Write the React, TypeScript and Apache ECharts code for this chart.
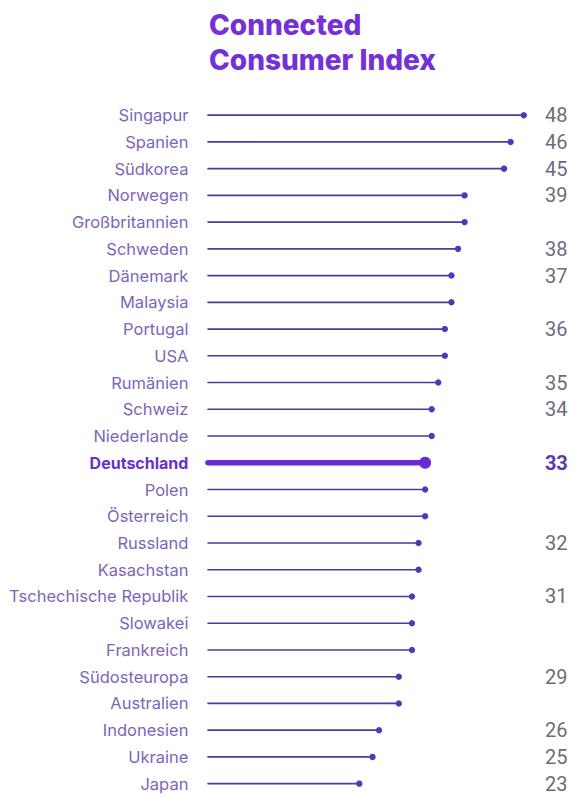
import React, { useEffect, useRef } from "react";
import * as echarts from "echarts";

const countries = [
  "Singapur", "Spanien", "Südkorea", "Norwegen", "Großbritannien", "Schweden",
  "Dänemark", "Malaysia", "Portugal", "USA", "Rumänien", "Schweiz", "Niederlande",
  "Deutschland", "Polen", "Österreich", "Russland", "Kasachstan",
  "Tschechische Republik", "Slowakei", "Frankreich", "Südosteuropa", "Australien",
  "Indonesien", "Ukraine", "Japan",
];
const values = [48, 46, 45, 39, 39, 38, 37, 37, 36, 36, 35, 34, 34, 33, 33, 33, 32, 32, 31, 31, 31, 29, 29, 26, 25, 23];
const valueLabels = ["48", "46", "45", "39", "", "38", "37", "", "36", "", "35", "34", "", "33", "", "", "32", "", "31", "", "", "29", "", "26", "25", "23"];
const highlight = "Deutschland";
const titleLines = ["Connected", "Consumer Index"];

export default function App() {
  const ref = useRef<HTMLDivElement>(null);
  useEffect(() => {
    document.body.style.margin = "0";
    const chart = echarts.init(ref.current!, null, { renderer: "svg" });
    chart.setOption({
      animation: false,
      backgroundColor: "#ffffff",
      title: {
        text: titleLines.join("\n"),
        left: 204,
        top: 2,
        textStyle: {
          fontFamily: "Inter",
          fontWeight: 800,
          fontSize: 28,
          lineHeight: 35,
          color: "#7530d6",
        },
      },
      grid: { left: 201.4, top: 101.8, width: 50 * 6.58, height: 26 * 26.9 },
      xAxis: {
        type: "value",
        min: -1,
        max: 49,
        show: false,
      },
      yAxis: [
        {
          type: "category",
          data: countries,
          inverse: true,
          axisLine: { show: false },
          axisTick: { show: false },
          splitLine: { show: false },
          axisLabel: {
            margin: 13,
            fontFamily: "Inter",
            fontSize: 16.5,
            color: "#7d66b9",
            formatter: (v: string) => (v === highlight ? `{b|${v}}` : v),
            rich: {
              b: { fontFamily: "Inter", fontSize: 16, fontWeight: 700, color: "#6a30cc" },
            },
          },
        },
        {
          type: "category",
          data: countries,
          inverse: true,
          position: "right",
          axisLine: { show: false },
          axisTick: { show: false },
          splitLine: { show: false },
          axisLabel: {
            margin: 14.5,
            align: "left",
            fontFamily: "Roboto",
            fontSize: 20,
            color: "#6f6b7e",
            formatter: (v: string) => {
              const i = countries.indexOf(v);
              const t = valueLabels[i];
              if (!t) return "";
              return v === highlight ? `{b|${t}}` : t;
            },
            rich: {
              b: { fontFamily: "Roboto", fontSize: 20, fontWeight: 700, color: "#5b37b4" },
            },
          },
        },
      ],
      series: [
        {
          type: "custom",
          data: values.map((v, i) => [v, i]),
          encode: { x: 0, y: 1 },
          renderItem: (params: any, api: any) => {
            const v = api.value(0);
            const idx = api.value(1);
            const s = api.coord([0, idx]);
            const e = api.coord([v, idx]);
            const hi = countries[idx] === highlight;
            return {
              type: "group",
              children: [
                {
                  type: "line",
                  shape: { x1: s[0], y1: s[1], x2: e[0], y2: e[1] },
                  style: {
                    stroke: hi ? "#6a2ad6" : "#4f3a96",
                    lineWidth: hi ? 5.5 : 1.6,
                    lineCap: "round",
                  },
                },
                {
                  type: "circle",
                  shape: { cx: e[0], cy: e[1], r: hi ? 6 : 3.2 },
                  style: { fill: hi ? "#6a2ad6" : "#5038b8" },
                },
              ],
            };
          },
        },
      ],
    });
    return () => chart.dispose();
  }, []);
  return <div ref={ref} style={{ width: 572, height: 797 }} />;
}
